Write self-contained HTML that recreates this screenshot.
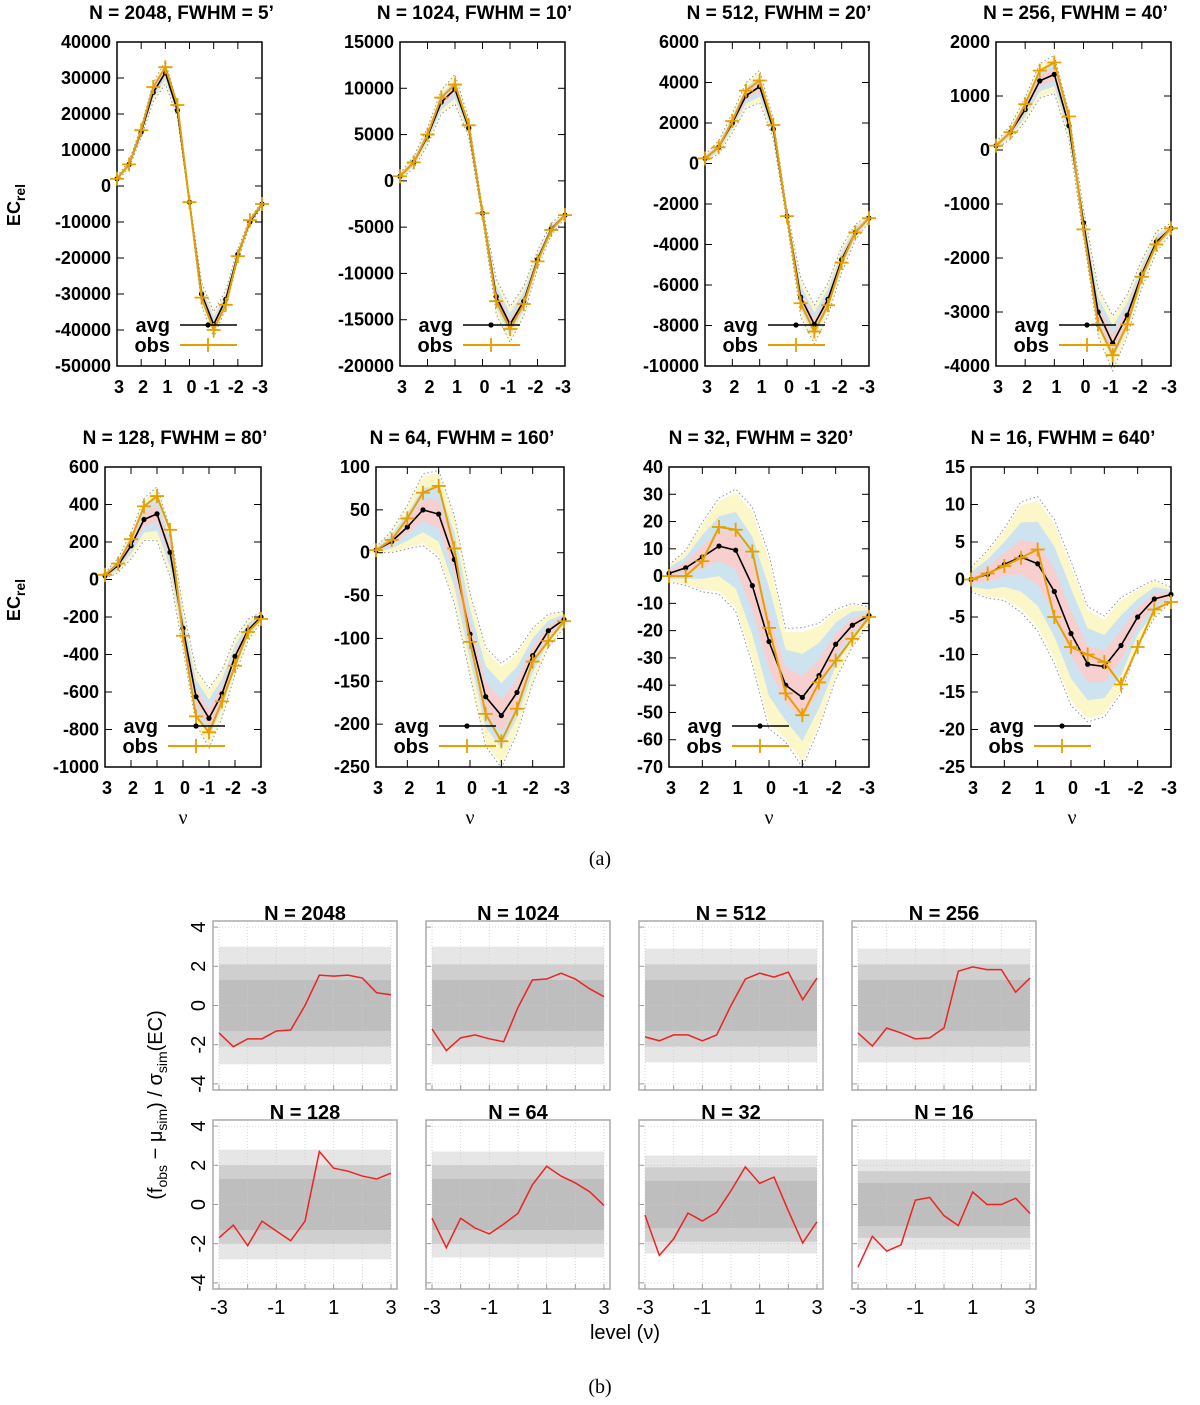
<!DOCTYPE html>
<html><head><meta charset="utf-8"><title>EC figure</title>
<style>
html,body{margin:0;padding:0;background:#fff;}
svg{display:block;font-family:"Liberation Sans",sans-serif;}
.tb{font-weight:bold;font-size:18px;}
.tt{font-weight:bold;font-size:19px;}
</style></head>
<body>
<svg id="fig" width="1200" height="1405" viewBox="0 0 1200 1405" xmlns="http://www.w3.org/2000/svg">
<g id="topg"></g>
<g id="botg"></g>
<text x="600" y="865" text-anchor="middle" font-family="Liberation Serif" font-size="20">(a)</text>
<text x="600" y="1393" text-anchor="middle" font-family="Liberation Serif" font-size="20">(b)</text>
<text transform="translate(20,205) rotate(-90)" text-anchor="middle" class="tb" font-size="19">EC<tspan font-size="14" dy="5">rel</tspan></text>
<text transform="translate(20,600) rotate(-90)" text-anchor="middle" class="tb" font-size="19">EC<tspan font-size="14" dy="5">rel</tspan></text>
<text x="183" y="824" text-anchor="middle" font-family="Liberation Serif" font-size="20">ν</text>
<text x="470" y="824" text-anchor="middle" font-family="Liberation Serif" font-size="20">ν</text>
<text x="769" y="824" text-anchor="middle" font-family="Liberation Serif" font-size="20">ν</text>
<text x="1072" y="824" text-anchor="middle" font-family="Liberation Serif" font-size="20">ν</text>
<text x="625" y="1339" text-anchor="middle" font-size="20">level (ν)</text>
<text transform="translate(162,1105) rotate(-90)" text-anchor="middle" font-size="20">(f<tspan font-size="14" dy="5">obs</tspan><tspan dy="-5"> − μ</tspan><tspan font-size="14" dy="5">sim</tspan><tspan dy="-5">) / σ</tspan><tspan font-size="14" dy="5">sim</tspan><tspan dy="-5">(EC)</tspan></text>
</svg>
<script>
const levels = [3,2.5,2,1.5,1,0.5,0,-0.5,-1,-1.5,-2,-2.5,-3];
const titles = ["N = 2048, FWHM = 5’","N = 1024, FWHM = 10’","N = 512, FWHM = 20’","N = 256, FWHM = 40’","N = 128, FWHM = 80’","N = 64, FWHM = 160’","N = 32, FWHM = 320’","N = 16, FWHM = 640’"];
const yRanges = [[-50000,40000,10000],[-20000,15000,5000],[-10000,6000,2000],[-4000,2000,1000],[-1000,600,200],[-250,100,50],[-70,40,10],[-25,15,5]];
const avg2048 = [2000,6000,15000,26000,31500,21000,-4500,-30000,-38500,-31500,-19000,-10000,-5000];
const obs2048 = [2000,6000,15500,27500,33000,22500,-4500,-31000,-40000,-33000,-19500,-9500,-5000];
const sig2048 = [200,300,500,800,1000,600,300,1000,1100,800,500,300,200];
const avg1024 = [500,2000,4800,8500,9900,5700,-3500,-12500,-15500,-13000,-8500,-5200,-3700];
const obs1024 = [500,2000,5000,9000,10400,6000,-3500,-13000,-16000,-13300,-8700,-5300,-3700];
const sig1024 = [100,200,300,400,500,300,200,600,600,500,300,200,100];
const avg512 = [250,800,2000,3350,3800,1700,-2600,-6600,-7950,-6700,-4750,-3400,-2700];
const obs512 = [250,800,2100,3600,4100,1900,-2600,-6900,-8300,-7000,-4900,-3400,-2700];
const sig512 = [60,100,150,200,250,150,100,300,300,250,200,120,60];
const avg256 = [80,330,750,1280,1400,450,-1350,-3000,-3580,-3060,-2300,-1700,-1450];
const obs256 = [80,330,850,1470,1620,620,-1470,-3230,-3800,-3230,-2350,-1750,-1450];
const sig256 = [20,40,70,100,110,80,80,140,160,120,80,60,30];
const avg128 = [20,75,180,320,350,145,-260,-625,-740,-610,-410,-270,-200];
const obs128 = [25,85,215,390,445,265,-300,-730,-815,-650,-460,-280,-210];
const sig128 = [5,12,22,35,45,40,35,45,50,40,30,18,8];
const avg64 = [3,13,30,50,45,-8,-95,-168,-190,-163,-120,-91,-78];
const obs64 = [3,15,40,70,78,5,-104,-188,-220,-182,-127,-103,-80];
const sig64 = [1,4,8,13,16,16,15,18,19,15,10,6,3];
const avg32 = [1,3,7,11,9.5,-3.5,-24,-40,-44.5,-36.5,-25,-18,-14.5];
const obs32 = [0,0,5.5,18,17,9,-19,-43,-51,-39,-31,-23,-15];
const sig32 = [1,2,4,5.5,7,9,10,6.5,8,6,4,2.5,1];
const avg16 = [0,0.7,2,3,2.1,-1.6,-7.2,-11.3,-11.6,-8.8,-5,-2.6,-2];
const obs16 = [0,0.8,1.8,2.9,4,-5,-9,-10,-11,-14,-9,-4,-3];
const sig16 = [0.5,1,1.5,2.3,2.8,3,3,2.4,2.1,2,1.2,0.8,0.3];
const avgSets = [avg2048,avg1024,avg512,avg256,avg128,avg64,avg32,avg16];
const obsSets = [obs2048,obs1024,obs512,obs256,obs128,obs64,obs32,obs16];
const sigSets = [sig2048,sig1024,sig512,sig256,sig128,sig64,sig32,sig16];

const bTitles = ["N = 2048","N = 1024","N = 512","N = 256","N = 128","N = 64","N = 32","N = 16"];
const bLevels = [-3,-2.5,-2,-1.5,-1,-0.5,0,0.5,1,1.5,2,2.5,3];
const red2048 = [-1.4,-2.1,-1.7,-1.7,-1.3,-1.25,0,1.55,1.5,1.55,1.4,0.65,0.55];
const red1024 = [-1.2,-2.3,-1.65,-1.5,-1.7,-1.85,-0.1,1.3,1.35,1.65,1.35,0.85,0.45];
const red512 = [-1.6,-1.8,-1.5,-1.5,-1.8,-1.5,0,1.35,1.65,1.45,1.7,0.3,1.4];
const red256 = [-1.4,-2.07,-1.15,-1.4,-1.7,-1.65,-1.15,1.75,1.97,1.83,1.83,0.68,1.4];
const red128 = [-1.7,-1.05,-2.1,-0.85,-1.35,-1.85,-0.85,2.7,1.85,1.7,1.45,1.3,1.6];
const red64 = [-0.7,-2.2,-0.7,-1.2,-1.5,-1.0,-0.45,1.0,1.95,1.45,1.1,0.65,-0.05];
const red32 = [-0.54,-2.6,-1.75,-0.44,-0.84,-0.4,0.7,1.92,1.08,1.4,-0.32,-1.96,-0.88];
const red16 = [-3.2,-1.62,-2.38,-2.06,0.22,0.36,-0.57,-1.08,0.64,0,0,0.32,-0.46];
const redSets = [red2048,red1024,red512,red256,red128,red64,red32,red16];
const simInner = [1.3,1.3,1.3,1.3,1.3,1.3,1.2,1.1];
const simMid = [2.1,2.1,2.1,2.1,2.0,2.0,1.9,1.7];
const simOuter = [3.0,3.0,2.9,2.9,2.8,2.7,2.5,2.3];

const NS="http://www.w3.org/2000/svg";
function mk(parent,tag,attrs){const e=document.createElementNS(NS,tag);for(const k in attrs)e.setAttribute(k,attrs[k]);parent.appendChild(e);return e;}

const boxes=[[117,262,42,366],[400,565,42,366],[705,869,42,366],[996,1171,42,366],[105,261,467,767],[376,564,467,767],[669,869,467,767],[971,1171,467,767]];
const topGroup=document.getElementById('topg');
for(let p=0;p<8;p++){
  const [x0,x1,y0,y1]=boxes[p];const [ymin,ymax,ystep]=yRanges[p];
  const g=mk(topGroup,'g',{});
  
  
  const X=v=>x0+(3-v)/6*(x1-x0);
  const Y=v=>y1-(v-ymin)/(ymax-ymin)*(y1-y0);
  const A=avgSets[p],O=obsSets[p],S=sigSets[p];
  const band=(k,col,name)=>{let pts=levels.map((l,i)=>X(l)+','+Y(A[i]+k*S[i]));let lo=levels.map((l,i)=>X(l)+','+Y(A[i]-k*S[i])).reverse();
    const e=mk(g,'polygon',{points:pts.concat(lo).join(' '),fill:col});
    
    };
  band(3,'#fbf7c9','band-3sigma');band(2,'#cde3f0','band-2sigma');band(1,'#f7cfcf','band-1sigma');
  [3.2,-3.2].forEach(k=>{const e=mk(g,'polyline',{points:levels.map((l,i)=>X(l)+','+Y(A[i]+k*S[i])).join(' '),fill:'none',stroke:'#888','stroke-width':0.9,'stroke-dasharray':'1.5,2.5'});
    
    });
  const fr=mk(g,'rect',{x:x0,y:y0,width:x1-x0,height:y1-y0,fill:'none',stroke:'#000','stroke-width':1.5});
  
  
  for(let v=ymin;v<=ymax+1e-9;v+=ystep){const yy=Y(v);
    mk(g,'line',{x1:x0,x2:x0+7,y1:yy,y2:yy,stroke:'#000','stroke-width':1});
    mk(g,'line',{x1:x1,x2:x1-7,y1:yy,y2:yy,stroke:'#000','stroke-width':1});
    const t=mk(g,'text',{x:x0-6,y:yy+6,'text-anchor':'end',class:'tb'});t.textContent=String(Math.round(v));
    
    }
  for(let v=3;v>=-3;v--){const xx=X(v);
    mk(g,'line',{x1:xx,x2:xx,y1:y1,y2:y1-7,stroke:'#000','stroke-width':1});
    mk(g,'line',{x1:xx,x2:xx,y1:y0,y2:y0+7,stroke:'#000','stroke-width':1});
    const t=mk(g,'text',{x:xx+(v<0?-2:2),y:y1+27,'text-anchor':'middle',class:'tb'});t.textContent=String(v);
    
    }
  const tt=mk(g,'text',{x:(x0+x1)/2-8,y:y0-23,'text-anchor':'middle',class:'tt'});tt.textContent=titles[p];
  
  
  const al=mk(g,'polyline',{points:levels.map((l,i)=>X(l)+','+Y(A[i])).join(' '),fill:'none',stroke:'#000','stroke-width':1.6});
  
  
  levels.forEach((l,i)=>{const c=mk(g,'circle',{cx:X(l),cy:Y(A[i]),r:2.6,fill:'#000'});
    
    });
  const ol=mk(g,'polyline',{points:levels.map((l,i)=>X(l)+','+Y(O[i])).join(' '),fill:'none',stroke:'#e69f00','stroke-width':2});
  
  
  levels.forEach((l,i)=>{const cx=X(l),cy=Y(O[i]);const m=mk(g,'path',{d:`M${cx-7},${cy}H${cx+7}M${cx},${cy-7}V${cy+7}`,stroke:'#e69f00','stroke-width':1.8});
    
    });
  const lg=mk(g,'g',{});
  
  
  const ya=y1-36,yo=y1-16;
  let t=mk(lg,'text',{x:x0+53,y:ya+2,'text-anchor':'end',class:'tb',style:'font-size:20px'});t.textContent='avg';
  mk(lg,'line',{x1:x0+63,x2:x0+120,y1:ya-5,y2:ya-5,stroke:'#000','stroke-width':1.6});
  mk(lg,'circle',{cx:x0+91,cy:ya-5,r:2.6,fill:'#000'});
  t=mk(lg,'text',{x:x0+53,y:yo+2,'text-anchor':'end',class:'tb',style:'font-size:20px'});t.textContent='obs';
  mk(lg,'line',{x1:x0+63,x2:x0+120,y1:yo-5,y2:yo-5,stroke:'#e69f00','stroke-width':2});
  mk(lg,'path',{d:`M${x0+84},${yo-5}H${x0+98}M${x0+91},${yo-12}V${yo+2}`,stroke:'#e69f00','stroke-width':1.8});
}

const botGroup=document.getElementById('botg');
for(let p=0;p<8;p++){
  const col=p%4,row=Math.floor(p/4);
  const x0=213+col*213,x1=x0+184,y0=921+row*199,y1=y0+169;
  const g=mk(botGroup,'g',{});
  
  
  const X=v=>x0+6+(v+3)/6*(x1-x0-12);
  const Y=v=>(y0+y1)/2 - v*19.6;
  const env=(a,colr,name)=>{const e=mk(g,'rect',{x:X(-3),y:Y(a),width:X(3)-X(-3),height:Y(-a)-Y(a),fill:colr});
    
    };
  env(simOuter[p],'#e6e6e6','sim-envelope-outer');env(simMid[p],'#cfcfcf','sim-envelope-mid');env(simInner[p],'#bebebe','sim-envelope-inner');
  for(let v=-3;v<=3;v++){mk(g,'line',{x1:X(v),x2:X(v),y1:y0,y2:y1,stroke:'#ccc','stroke-width':0.8,'stroke-dasharray':'1,2'});}
  for(let v=-4;v<=4;v+=2){mk(g,'line',{x1:x0,x2:x1,y1:Y(v),y2:Y(v),stroke:'#ccc','stroke-width':0.8,'stroke-dasharray':'1,2'});
    mk(g,'line',{x1:x0,x2:x0+5,y1:Y(v),y2:Y(v),stroke:'#999'});
    if(col===0){const t=mk(g,'text',{transform:`translate(${x0-8},${Y(v)}) rotate(-90)`,'text-anchor':'middle','font-size':20});t.textContent=String(v);
      
      }}
  const fr=mk(g,'rect',{x:x0,y:y0,width:x1-x0,height:y1-y0,fill:'none',stroke:'#aaa','stroke-width':1.5});
  
  
  for(let v=-3;v<=3;v++)mk(g,'line',{x1:X(v),x2:X(v),y1:y1,y2:y1-5,stroke:'#999'});
  if(row===1){[-3,-1,1,3].forEach(v=>{const t=mk(g,'text',{x:X(v),y:y1+25,'text-anchor':'middle','font-size':20});t.textContent=String(v);
    
    });}
  const tt=mk(g,'text',{x:(x0+x1)/2,y:y0-1,'text-anchor':'middle','font-weight':'bold','font-size':20});tt.textContent=bTitles[p];
  
  
  const R=redSets[p];
  const rl=mk(g,'polyline',{points:bLevels.map((l,i)=>X(l)+','+Y(R[i])).join(' '),fill:'none',stroke:'#ee2222','stroke-width':1.5});
  
  
}
</script>
</body></html>
